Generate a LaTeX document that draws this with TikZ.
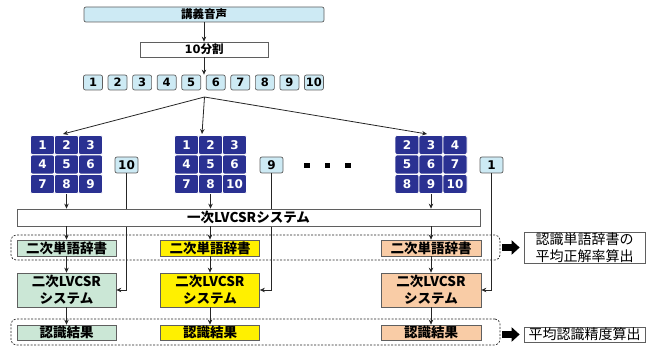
\documentclass[tikz,border=0pt]{standalone}
\usepackage{fontspec}
\setmainfont{Noto Sans CJK JP}
\newfontfamily\dv{DejaVu Sans}
\usetikzlibrary{arrows.meta}
\definecolor{lightb}{RGB}{205,234,244}
\definecolor{navy}{RGB}{42,49,146}
\definecolor{mint}{RGB}{203,231,214}
\definecolor{yel}{RGB}{255,240,0}
\definecolor{peach}{RGB}{249,204,166}
\definecolor{bgray}{RGB}{95,95,95}
\tikzset{
  lbox/.style={draw=bgray, fill=lightb, rounded corners=2pt, inner sep=0pt, line width=0.7pt},
  wbox/.style={draw=bgray, fill=white, inner sep=0pt, line width=0.7pt},
  numbox/.style={lbox, minimum width=19pt, minimum height=15pt, font=\dv\bfseries\fontsize{11.5}{11.5}\selectfont},
  cell/.style={draw=white, fill=navy, rounded corners=2pt, text=white, inner sep=0pt, line width=0.8pt,
    minimum width=24pt, minimum height=19pt, font=\dv\bfseries\fontsize{12}{12}\selectfont},
  sidebox/.style={lbox, minimum width=23pt, minimum height=16pt, font=\dv\bfseries\fontsize{12}{12}\selectfont},
  dictbox/.style={draw=bgray, inner sep=0pt, line width=0.7pt, minimum width=99pt, minimum height=16pt,
    font=\bfseries\fontsize{13.5}{13.5}\selectfont},
  sysbox/.style={draw=bgray, inner sep=0pt, line width=0.7pt, minimum width=99pt, minimum height=34pt,
    align=center, font=\bfseries\fontsize{13.5}{16.5}\selectfont},
  region/.style={draw=black!85, dashed, dash pattern=on 2pt off 1.5pt, rounded corners=5pt, line width=0.7pt,
    minimum width=489pt},
  arr/.style={draw=black!85, line width=0.8pt, -{Stealth[length=5pt,width=4.5pt]}},
  fat/.style={draw=black, line width=7pt, -{Triangle[length=8pt,width=14pt]}},
  resbox/.style={draw=bgray, fill=white, inner sep=0pt, line width=0.7pt, minimum width=121pt,
    align=center, font=\fontsize{14}{16.5}\selectfont},
}
\begin{document}
\begin{tikzpicture}[x=1pt,y=-1pt]
\useasboundingbox (0,0) rectangle (648,347);

% top
\node[lbox, minimum width=240pt, minimum height=15pt, font=\bfseries\fontsize{11.5}{11.5}\selectfont] (src) at (204,14.5) {講義音声};
\node[wbox, minimum width=128pt, minimum height=15pt, font=\bfseries\fontsize{11.5}{11.5}\selectfont] (div) at (204,49.5) {{\dv 10}分割};
\draw[arr] (src.south) -- (div.north);
\foreach \i in {1,...,10} {
  \node[numbox] (n\i) at ({93+(\i-1)*24.55},82.5) {\i};
}
\draw[arr] (div.south) -- (div.south |- n6.north);

% grids
\foreach \lbl [count=\k from 0] in {1,2,3,4,5,6,7,8,9} {
  \pgfmathtruncatemacro\r{int(\k/3)}\pgfmathtruncatemacro\c{mod(\k,3)}
  \node[cell] (A\k) at ({66.5+24*(\c-1)},{145+19.5*\r}) {\lbl};
}
\foreach \lbl [count=\k from 0] in {1,2,3,4,5,6,7,8,10} {
  \pgfmathtruncatemacro\r{int(\k/3)}\pgfmathtruncatemacro\c{mod(\k,3)}
  \node[cell] (B\k) at ({210.5+24*(\c-1)},{145+19.5*\r}) {\lbl};
}
\foreach \lbl [count=\k from 0] in {2,3,4,5,6,7,8,9,10} {
  \pgfmathtruncatemacro\r{int(\k/3)}\pgfmathtruncatemacro\c{mod(\k,3)}
  \node[cell] (C\k) at ({431+24*(\c-1)},{145+19.5*\r}) {\lbl};
}
\node[sidebox] (sA) at (126.5,165) {10};
\node[sidebox] (sB) at (271.5,165) {9};
\node[sidebox] (sC) at (491.5,165) {1};
\foreach \xx in {307,327.5,348} {
  \fill (\xx-2.7,165.5-2.7) rectangle (\xx+2.7,165.5+2.7);
}

% fan
\coordinate (fan) at (204.5,97);
\coordinate (fA) at (63,134);
\coordinate (fB) at (202,134);
\coordinate (fC) at (427,134);
\draw[arr] (fan) -- (fA);
\draw[arr] (fan) -- (fB);
\draw[arr] (fan) -- (fC);

% second-stage boxes
\node[dictbox, fill=mint] (dA) at (66.5,248) {二次単語辞書};
\node[dictbox, fill=yel] (dB) at (210,248) {二次単語辞書};
\node[dictbox, fill=peach, minimum width=100pt] (dC) at (431,248) {二次単語辞書};
\node[sysbox, fill=mint] (yA) at (66.5,290) {二次LVCSR\\システム};
\node[sysbox, fill=yel] (yB) at (210,290) {二次LVCSR\\システム};
\node[sysbox, fill=peach, minimum width=100pt] (yC) at (431,290) {二次LVCSR\\システム};
\node[dictbox, fill=mint, minimum height=15pt] (rA) at (66.5,332.5) {認識結果};
\node[dictbox, fill=yel, minimum height=15pt] (rB) at (210,332.5) {認識結果};
\node[dictbox, fill=peach, minimum width=100pt, minimum height=15pt] (rC) at (431,332.5) {認識結果};

% side lines
\draw[arr] (sA.south) |- (yA.east);
\draw[arr] (sB.south) |- (yB.east);
\draw[arr] (sC.south) |- (yC.east);

% first system
\node[wbox, minimum width=463pt, minimum height=17pt, font=\bfseries\fontsize{13.5}{13.5}\selectfont] (sys1) at (248.5,217.5) {一次LVCSRシステム};

\draw[arr] (A7.south) -- (A7.south |- sys1.north);
\draw[arr] (B7.south) -- (B7.south |- sys1.north);
\draw[arr] (C7.south) -- (C7.south |- sys1.north);
\draw[arr] (sys1.south -| dA.north) -- (dA.north);
\draw[arr] (sys1.south -| dB.north) -- (dB.north);
\draw[arr] (sys1.south -| dC.north) -- (dC.north);
\draw[arr] (dA.south) -- (yA.north);
\draw[arr] (dB.south) -- (yB.north);
\draw[arr] (dC.south) -- (yC.north);
\draw[arr] (yA.south) -- (rA.north);
\draw[arr] (yB.south) -- (rB.north);
\draw[arr] (yC.south) -- (rC.north);

% dashed regions
\node[region, minimum height=25pt] (g1) at (255.5,247.5) {};
\node[region, minimum height=26pt] (g2) at (255.5,332) {};

% results
\node[resbox, minimum height=31pt] (o1) at (584.5,247.5) {認識単語辞書の\\平均正解率算出};
\node[resbox, minimum height=15pt] (o2) at (584.5,334.5) {平均認識精度算出};
\draw[fat] ([xshift=2pt]g1.east) -- ([xshift=-4pt]o1.west);
\draw[fat] ([xshift=2pt]g2.east |- o2.west) -- ([xshift=-4pt]o2.west);
\end{tikzpicture}
\end{document}
